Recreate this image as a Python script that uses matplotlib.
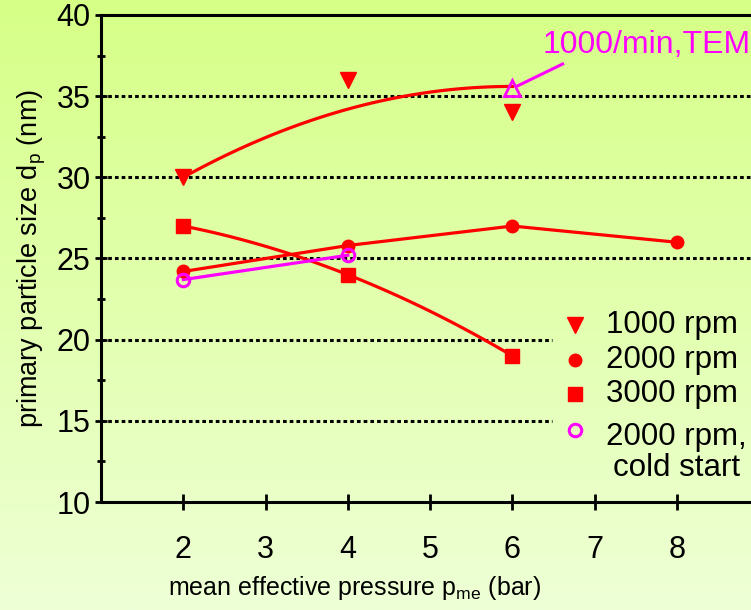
import numpy as np
import matplotlib
matplotlib.use("Agg")
import matplotlib.pyplot as plt
from matplotlib.ticker import MultipleLocator

plt.rcParams['font.family'] = ['Liberation Sans', 'DejaVu Sans']
plt.rcParams['mathtext.fontset'] = 'custom'
plt.rcParams['mathtext.rm'] = 'Liberation Sans'
plt.rcParams['mathtext.it'] = 'Liberation Sans'

# data
p_1000 = [2, 4, 6]
d_1000 = [30.0, 36.0, 34.0]
p_2000 = [2, 4, 6, 8]
d_2000 = [24.2, 25.8, 27.0, 26.0]
p_3000 = [2, 4, 6]
d_3000 = [27.0, 24.0, 19.0]
p_cold = [2, 4]
d_cold = [23.7, 25.2]
p_tem = 6
d_tem = 35.5
# trend curves
fit_1000_x = [2, 4, 6]
fit_1000_y = [30.0, 34.2, 35.6]
fit_3000_x = [2, 4, 6]
fit_3000_y = [27.0, 24.0, 19.0]
legend_labels = ["1000 rpm", "2000 rpm", "3000 rpm", "2000 rpm,\ncold start"]

red = "#ff0000"
mag = "#ff00ff"
fs = 22

fig = plt.figure(figsize=(7.51, 6.10), dpi=100)

# background gradient
bg = fig.add_axes([0, 0, 1, 1], zorder=-10)
grad = np.linspace(0, 1, 256).reshape(-1, 1)
top = np.array([214, 255, 135]) / 255.0
bot = np.array([238, 255, 214]) / 255.0
img = top + (bot - top) * grad[:, :, None]
bg.imshow(img, aspect='auto', extent=[0, 1, 0, 1])
bg.axis('off')

ax = fig.add_axes([101 / 751, 1 - 502 / 610, 650 / 751, 487 / 610])
ax.patch.set_alpha(0)
ax.set_xlim(1, 8.9)
ax.set_ylim(10, 40)

# dotted grid lines
for yv in [15, 20]:
    ax.plot([1, 6.48], [yv, yv], color='black', lw=2.2, ls=(0, (1.2, 1.0)), zorder=1)
for yv in [25, 30, 35]:
    ax.plot([1, 8.9], [yv, yv], color='black', lw=2.2, ls=(0, (1.2, 1.0)), zorder=1)

def quad(xs, ys):
    c = np.polyfit(xs, ys, 2)
    xx = np.linspace(xs[0], xs[-1], 100)
    return xx, np.polyval(c, xx)

xx, yy = quad(fit_1000_x, fit_1000_y)
ax.plot(xx, yy, color=red, lw=2.3, zorder=3)
xx, yy = quad(fit_3000_x, fit_3000_y)
ax.plot(xx, yy, color=red, lw=2.3, zorder=3)
ax.plot(p_2000, d_2000, color=red, lw=2.3, zorder=3)
ax.plot(p_cold, d_cold, color=mag, lw=2.3, zorder=3)

st_1000 = dict(ls='none', marker='v', ms=11, color=red)
st_2000 = dict(ls='none', marker='o', ms=9, color=red)
st_3000 = dict(ls='none', marker='s', ms=10, color=red)
st_cold = dict(ls='none', marker='o', ms=9, mfc='none', mec=mag, mew=2.2)

ax.plot(p_1000, d_1000, zorder=4, **st_1000)
ax.plot(p_2000, d_2000, zorder=4, **st_2000)
ax.plot(p_3000, d_3000, zorder=4, **st_3000)
ax.plot(p_cold, d_cold, zorder=4, **st_cold)
ax.plot([p_tem], [d_tem], ls='none', marker='^', ms=11, mfc='none', mec=mag, mew=2.0, zorder=4)

# TEM label with leader line
ax.plot([6.07, 6.61], [35.65, 36.98], color=mag, lw=2.2, zorder=3)
ax.text(6.37, 38.15, "1000/min,TEM", color=mag, fontsize=23, ha='left', va='center')

# legend, drawn by hand so the marker sits on the first text line
rows = [325, 360, 394, 430]
for st, lab, py in zip([st_1000, st_2000, st_3000, st_cold], legend_labels, rows):
    ya = (502 - py) / 487
    ax.plot([(575 - 101) / 650], [ya], transform=ax.transAxes, clip_on=False, **st)
    ax.text((606 - 101) / 650, ya, lab, transform=ax.transAxes, fontsize=22.5,
            ha='left', va='center', multialignment='center', linespacing=1.05)
# the two-line entry: put its first line centre on the marker row
t = ax.texts[-1]
t.set_va('center_baseline')
t.set_y((502 - 448) / 487)

ax.spines['right'].set_visible(False)
for s in ['left', 'bottom', 'top']:
    ax.spines[s].set_linewidth(2.2)

ax.set_xticks([2, 3, 4, 5, 6, 7, 8])
ax.yaxis.set_major_locator(MultipleLocator(5))
ax.yaxis.set_minor_locator(MultipleLocator(2.5))
ax.tick_params(axis='x', direction='inout', length=11, width=2, pad=18, labelsize=fs)
ax.tick_params(axis='y', which='major', direction='inout', length=9, width=2, pad=3, labelsize=fs)
ax.tick_params(axis='y', which='minor', direction='inout', length=6, width=2)
ax.tick_params(top=False, right=False)

ax.set_xlabel(r"mean effective pressure p$_{\mathrm{me}}$ (bar)", fontsize=18)
ax.xaxis.set_label_coords((355 - 101) / 650, (502 - 574) / 487)
ax.set_ylabel(r"primary particle size d$_{\mathrm{p}}$ (nm)", fontsize=19.5, labelpad=6)

fig.savefig("out.png", dpi=100)
